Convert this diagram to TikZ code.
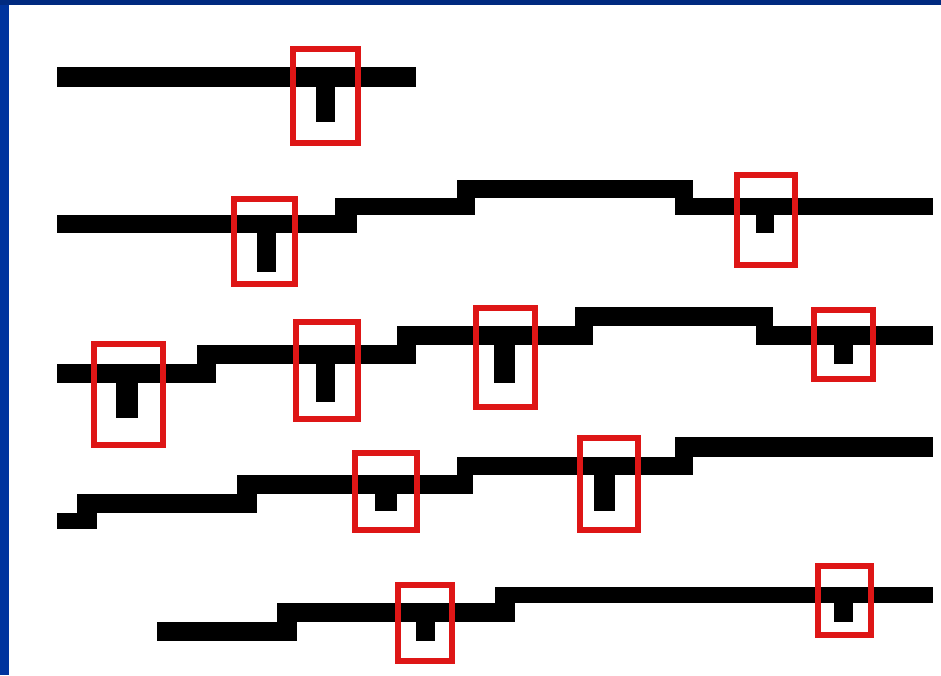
\documentclass[tikz,border=0pt]{standalone}
\usepackage{xcolor}
\definecolor{topblue}{RGB}{0,42,128}
\definecolor{leftblue}{RGB}{0,52,158}
\definecolor{boxred}{RGB}{222,22,22}
\tikzset{
  seg/.style={fill=black},
  stem/.style={fill=black},
  mark box/.style={draw=boxred, line width=6pt}
}
\newcommand{\redbox}[4]{\draw[mark box] (#1+3,#2+3) rectangle (#3-3,#4-3);}
\begin{document}
\begin{tikzpicture}[x=1pt,y=-1pt]
\useasboundingbox (0,0) rectangle (941,675);
\fill[white] (0,0) rectangle (941,675);
\fill[leftblue] (0,0) rectangle (9,675);
\fill[topblue] (0,0) rectangle (941,5);
% row 1
\fill[seg] (57.3,66.7) rectangle (415.7,86.7);
\fill[stem] (316,86.7) rectangle (335,122);
% row 2
\fill[seg] (57.3,215) rectangle (357,233.3);
\fill[seg] (335,198) rectangle (475,215);
\fill[seg] (457,180) rectangle (693,198);
\fill[seg] (675,198) rectangle (933.3,215);
\fill[stem] (256.7,233) rectangle (276,271.7);
\fill[stem] (756,215) rectangle (774,233);
% row 3
\fill[seg] (57.3,364) rectangle (216,382.7);
\fill[seg] (197.3,345) rectangle (416,364);
\fill[seg] (397.3,326) rectangle (593.3,345);
\fill[seg] (575,306.7) rectangle (773.3,326);
\fill[seg] (756,326) rectangle (933.3,345);
\fill[stem] (116,382.7) rectangle (137.7,418.3);
\fill[stem] (316,364) rectangle (335,401.7);
\fill[stem] (494,345) rectangle (515,382.7);
\fill[stem] (834,345) rectangle (852.7,364);
% row 4
\fill[seg] (57.3,512.7) rectangle (97.3,529.3);
\fill[seg] (76.7,494) rectangle (256.7,512.7);
\fill[seg] (236.7,475) rectangle (473.3,494);
\fill[seg] (456.7,456.7) rectangle (693.3,475);
\fill[seg] (675,437.3) rectangle (933.3,456.7);
\fill[stem] (375,494) rectangle (396.7,510.7);
\fill[stem] (594.3,475) rectangle (615,510.7);
% row 5
\fill[seg] (156.7,621.7) rectangle (296.7,641);
\fill[seg] (276.7,603.3) rectangle (515,621.7);
\fill[seg] (495,586.7) rectangle (933.3,603.3);
\fill[stem] (416,621.7) rectangle (435,641);
\fill[stem] (834,603.3) rectangle (852.7,621.7);
% red boxes
\redbox{290}{45.7}{361}{145.7}
\redbox{230.7}{196}{298.3}{287.3}
\redbox{734}{172.3}{797.7}{268.3}
\redbox{90.7}{340.7}{166}{448.3}
\redbox{293.3}{319.3}{360.7}{422.3}
\redbox{473.3}{305}{538.3}{410}
\redbox{810.7}{307.3}{876}{381.7}
\redbox{351.7}{450}{420}{533.3}
\redbox{577.3}{435}{640.7}{533.3}
\redbox{395}{582.3}{455}{664.3}
\redbox{815}{563.3}{874}{637.7}
\end{tikzpicture}
\end{document}
